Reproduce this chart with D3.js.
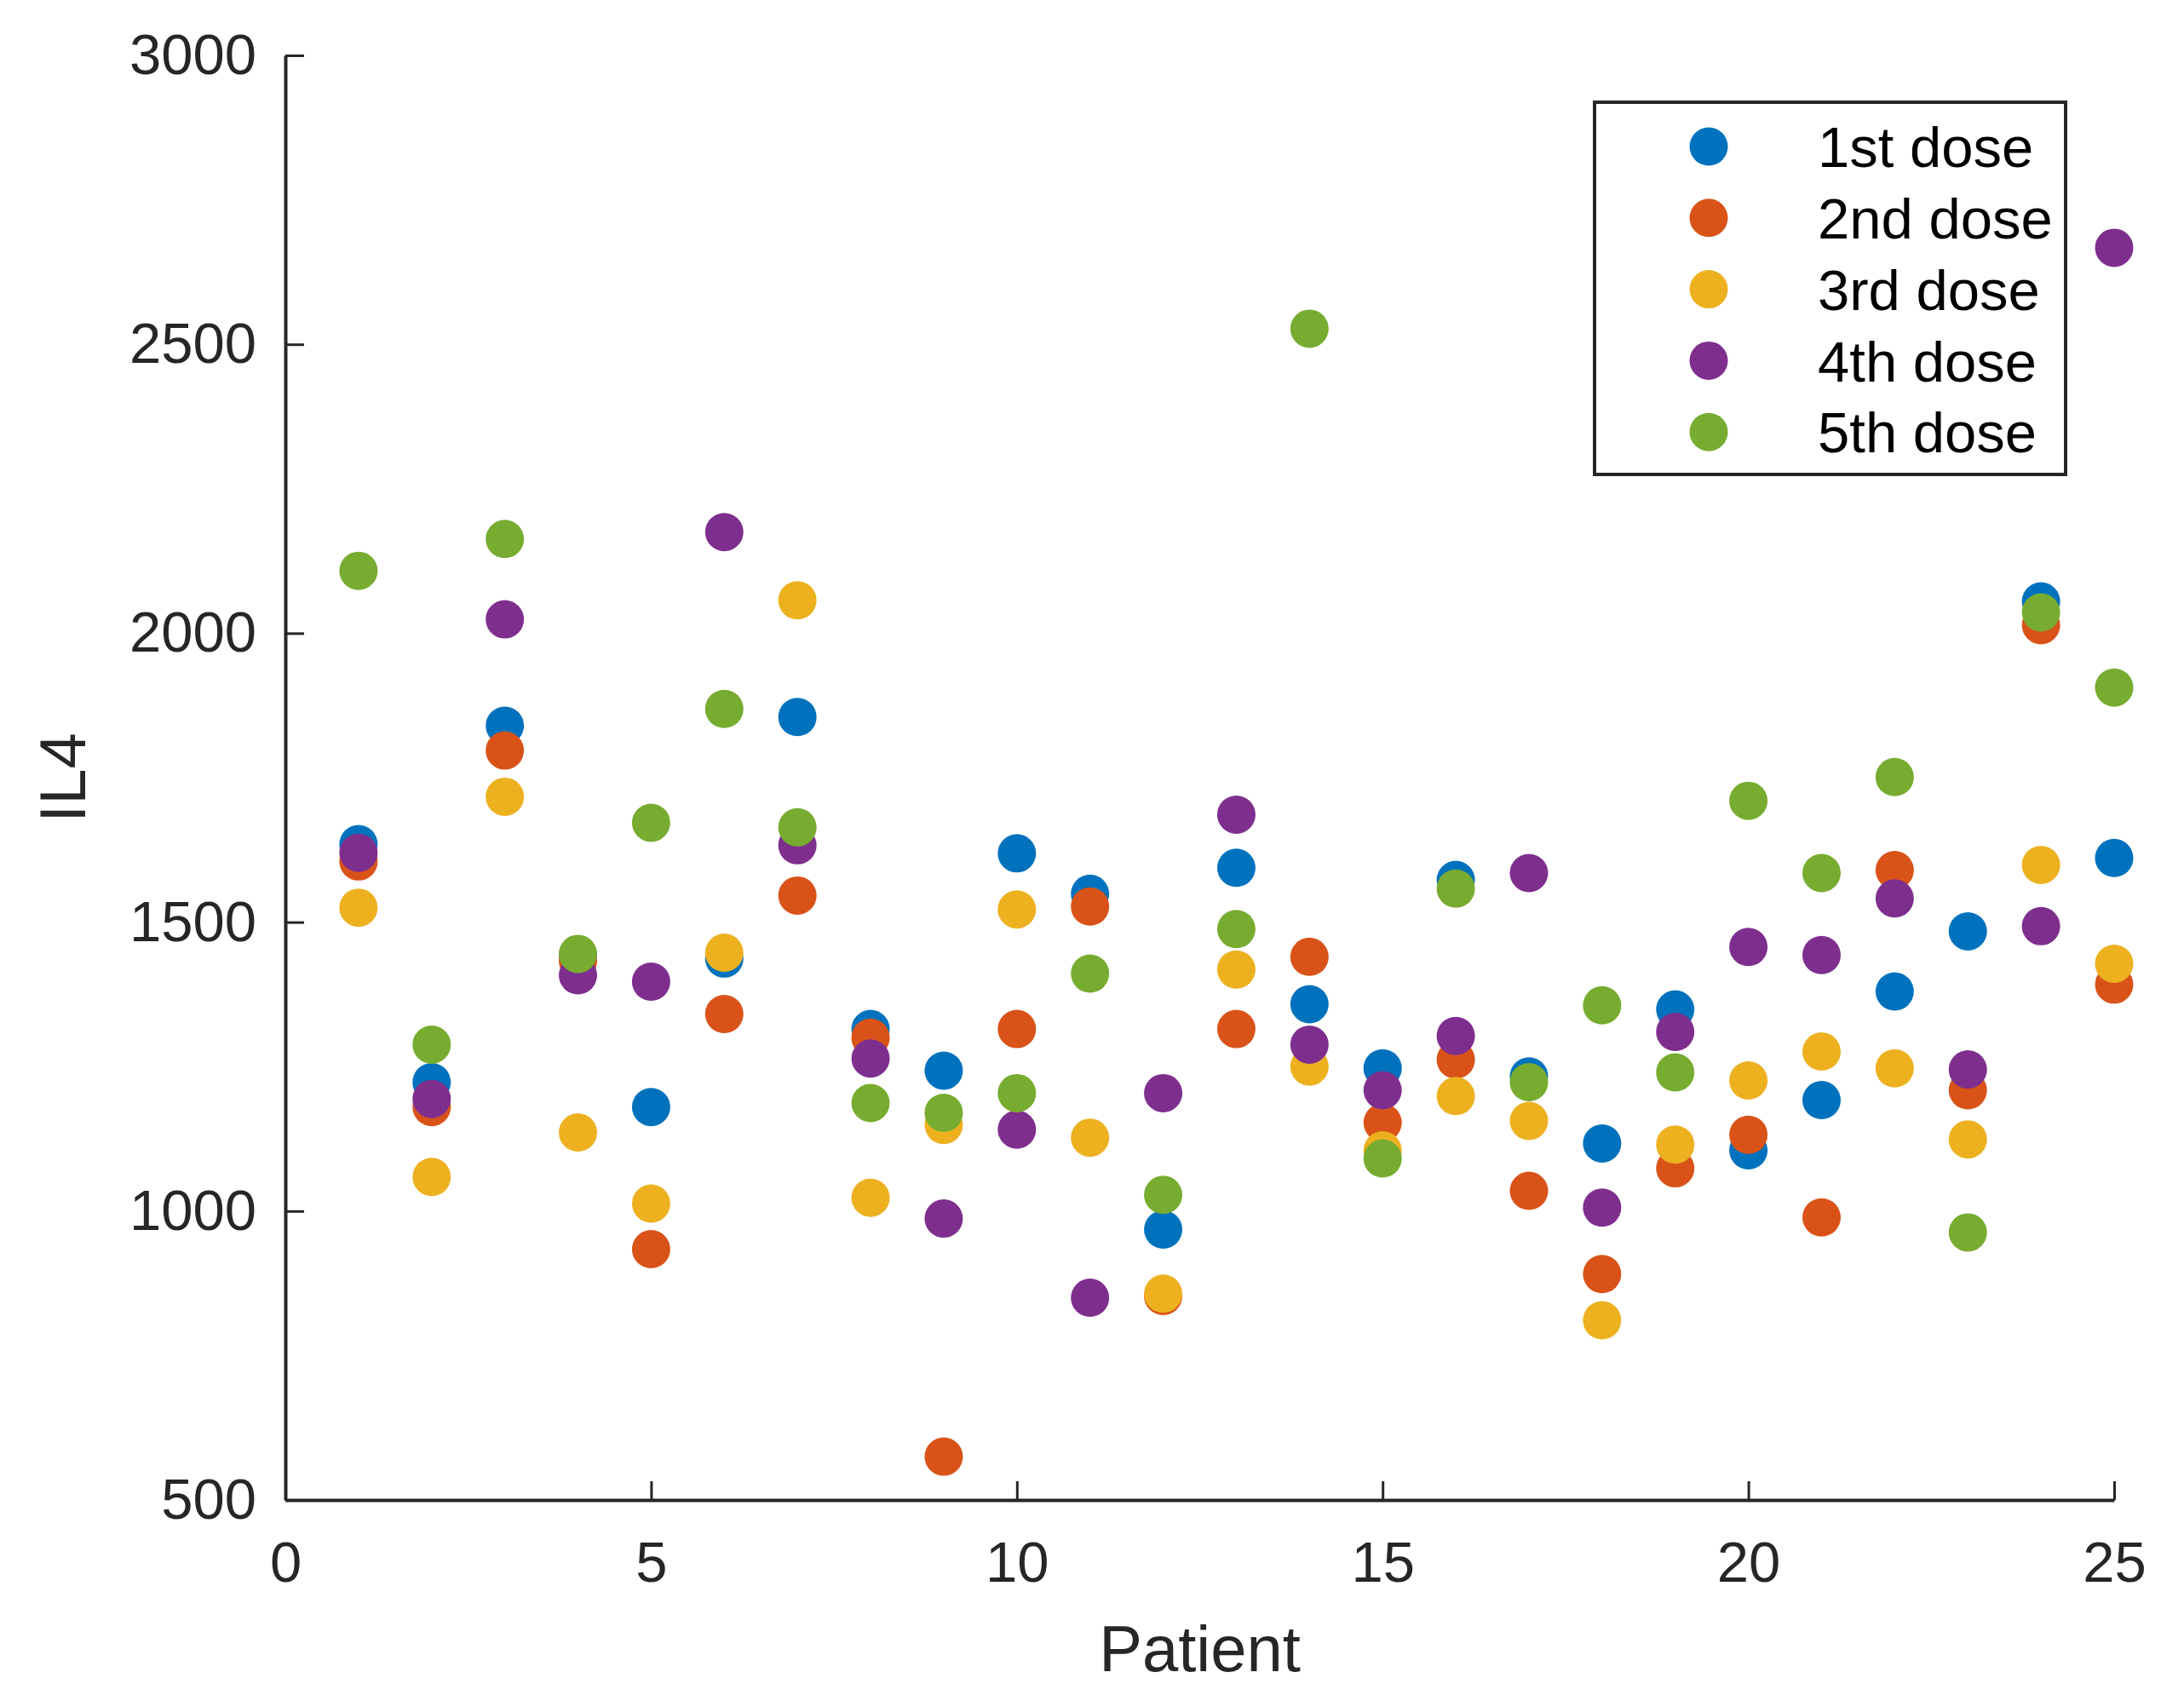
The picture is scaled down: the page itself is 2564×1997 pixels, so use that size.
<!DOCTYPE html>
<html>
<head>
<meta charset="utf-8">
<script src="https://cdn.jsdelivr.net/npm/d3@7"></script>
<style>
	body { margin: 0; background: #fff; }
	text { font-family: "Liberation Sans", Arial, Helvetica, sans-serif; fill: #262626; }
</style>
</head>
<body>
<script>
"use strict";

// IL4 per patient, one array per dose
let patients = d3.range(1, 26);

let dose1 = [1635, 1223, 1840, 1442, 1180, 1437, 1855, 1315, 1243, 1619,
	1549, 968, 1594, 1358, 1247, 1573, 1233, 1117, 1349, 1105,
	1192, 1380, 1484, 2055, 1611];
let dose2 = [1605, 1180, 1797, 1433, 934, 1341, 1546, 1300, 575, 1315,
	1527, 853, 1315, 1440, 1153, 1262, 1035, 891, 1074, 1132,
	989, 1590, 1209, 2014, 1392];
let dose3 = [1525, 1059, 1717, 1136, 1013, 1447, 2057, 1023, 1149, 1522,
	1127, 857, 1418, 1250, 1105, 1199, 1156, 811, 1115, 1226,
	1276, 1247, 1124, 1599, 1428];
let dose4 = [1620, 1194, 2024, 1408, 1397, 2175, 1633, 1264, 987, 1141,
	850, 1204, 1686, 1288, 1209, 1303, 1585, 1006, 1310, 1457,
	1443, 1541, 1245, 1493, 2667];
let dose5 = [2108, 1288, 2163, 1445, 1672, 1869, 1664, 1187, 1170, 1204,
	1411, 1028, 1488, 2527, 1091, 1558, 1223, 1356, 1240, 1710,
	1585, 1751, 963, 2036, 1906];

let seriesNames = ["1st dose", "2nd dose", "3rd dose", "4th dose", "5th dose"];
let seriesColors = ["#0072BD", "#D95319", "#EDB120", "#7E2F8E", "#77AC30"];
let seriesValues = [dose1, dose2, dose3, dose4, dose5];

let xTicks = [0, 5, 10, 15, 20, 25];
let yTicks = [500, 1000, 1500, 2000, 2500, 3000];

function draw() {

	let width = 2564,
		height = 1997;

	let left = 335, right = 2482,
		top = 65, bottom = 1761;

	let axisColor = "#262626",
		tickFont = 67,
		labelFont = 76,
		markerRadius = 22.5;

	let svg = d3.select("body").append("svg")
		.attr("width", width)
		.attr("height", height);

	let xScale = d3.scaleLinear().domain([0, 25]).range([left, right]);
	let yScale = d3.scaleLinear().domain([500, 3000]).range([bottom, top]);

	// points, first dose underneath
	for (let s = 0; s < seriesValues.length; s++) {
		svg.append("g")
			.selectAll("circle")
			.data(seriesValues[s])
			.enter()
			.append("circle")
				.attr("cx", function (d, i) { return xScale(patients[i]); })
				.attr("cy", function (d) { return yScale(d); })
				.attr("r", markerRadius)
				.style("fill", seriesColors[s]);
	}

	// axes (ticks point inward like matlab)
	let xAxis = svg.append("g")
		.attr("transform", "translate(0," + bottom + ")")
		.call(d3.axisBottom(xScale).tickValues(xTicks).tickFormat(d3.format("d"))
			.tickSizeInner(-22).tickSizeOuter(0).tickPadding(48));

	let yAxis = svg.append("g")
		.attr("transform", "translate(" + left + ",0)")
		.call(d3.axisLeft(yScale).tickValues(yTicks).tickFormat(d3.format("d"))
			.tickSizeInner(-22).tickSizeOuter(0).tickPadding(34));

	[xAxis, yAxis].forEach(function (ax) {
		ax.select(".domain").attr("stroke", axisColor).attr("stroke-width", 4);
		ax.selectAll(".tick line").attr("stroke", axisColor).attr("stroke-width", 3);
		ax.selectAll(".tick text")
			.style("font-size", tickFont + "px")
			.style("font-family", "Liberation Sans, Arial, sans-serif")
			.attr("fill", axisColor);
	});

	// axis labels
	svg.append("text")
		.attr("x", (left + right) / 2)
		.attr("y", 1962)
		.attr("text-anchor", "middle")
		.style("font-size", labelFont + "px")
		.text("Patient");

	svg.append("text")
		.attr("transform", "translate(100," + (top + bottom) / 2 + ") rotate(-90)")
		.attr("text-anchor", "middle")
		.style("font-size", labelFont + "px")
		.text("IL4");

	// legend
	let legend = svg.append("g");

	legend.append("rect")
		.attr("x", 1872)
		.attr("y", 120)
		.attr("width", 2425 - 1872)
		.attr("height", 557 - 120)
		.attr("fill", "#fff")
		.attr("stroke", axisColor)
		.attr("stroke-width", 4);

	let rowStart = 172,
		rowStep = 83.8;

	seriesNames.forEach(function (name, i) {
		let rowY = rowStart + i * rowStep;

		legend.append("circle")
			.attr("cx", 2006)
			.attr("cy", rowY)
			.attr("r", markerRadius)
			.style("fill", seriesColors[i]);

		legend.append("text")
			.attr("x", 2134)
			.attr("y", rowY)
			.attr("dy", "0.36em")
			.style("font-size", tickFont + "px")
			.style("fill", "#000")
			.text(name);
	});
};

draw();
</script>
</body>
</html>
